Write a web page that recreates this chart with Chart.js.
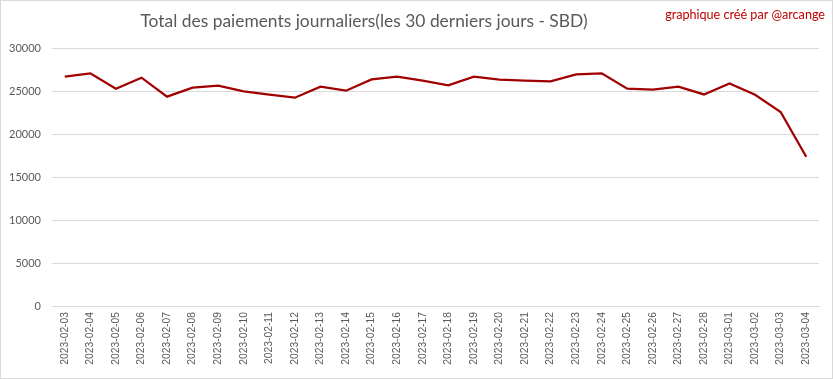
<!DOCTYPE html>
<html><head><meta charset="utf-8">
<script src="https://cdn.jsdelivr.net/npm/chart.js@4"></script>
<style>
html,body{margin:0;padding:0;background:#fff;}
#wrap{position:relative;width:831px;height:377px;border:1px solid #d9d9d9;}
canvas{display:block;}
</style></head><body>
<div id="wrap"><canvas id="c" width="831" height="377"></canvas></div>
<script>
const categories = ["2023-02-03","2023-02-04","2023-02-05","2023-02-06","2023-02-07","2023-02-08","2023-02-09","2023-02-10","2023-02-11","2023-02-12","2023-02-13","2023-02-14","2023-02-15","2023-02-16","2023-02-17","2023-02-18","2023-02-19","2023-02-20","2023-02-21","2023-02-22","2023-02-23","2023-02-24","2023-02-25","2023-02-26","2023-02-27","2023-02-28","2023-03-01","2023-03-02","2023-03-03","2023-03-04"];
const payments = [26660,27050,25270,26550,24340,25380,25620,24960,24570,24220,25500,25040,26350,26660,26200,25650,26660,26310,26200,26120,26930,27050,25270,25150,25500,24600,25880,24570,22560,17360];
const yTicks = [0,5000,10000,15000,20000,25000,30000];
const titleText = "Total des paiements journaliers(les 30 derniers jours - SBD)";
const creditText = "graphique créé par @arcange";

const textPlugin = {
  id:'texts',
  afterDraw(chart){
    const ctx = chart.ctx;
    ctx.save();
    ctx.fillStyle = '#595959';
    ctx.font = '17.4px Lato';
    ctx.textAlign = 'center';
    ctx.textBaseline = 'middle';
    ctx.fillText(titleText, 363, 20);
    ctx.fillStyle = '#c00000';
    ctx.font = '12.6px Lato';
    ctx.textAlign = 'right';
    ctx.fillText(creditText, 824, 14);
    ctx.restore();
  }
};

new Chart(document.getElementById('c'), {
  type:'line',
  data:{labels:categories, datasets:[{data:payments, borderColor:'#a00000', borderWidth:2.25, pointRadius:0, tension:0, fill:false}]},
  options:{
    responsive:false, animation:false,
    layout:{padding:{top:47,right:13,left:0,bottom:0}},
    plugins:{legend:{display:false}, title:{display:false}, tooltip:{enabled:false}},
    scales:{
      x:{offset:true,
        afterFit(s){ s.height = 72; },
        grid:{display:false, drawTicks:false},
        border:{display:true,color:'#d9d9d9',width:1},
        ticks:{color:'#595959', font:{family:'Liberation Sans', size:10.3}, maxRotation:90, minRotation:90, autoSkip:false, padding:6}
      },
      y:{min:0,max:30000,
        afterBuildTicks(s){ s.ticks = yTicks.map(v=>({value:v})); },
        afterFit(s){ s.width = 51; },
        grid:{color:'#d9d9d9', drawTicks:false},
        border:{display:false},
        ticks:{color:'#595959', font:{family:'Lato', size:11}, padding:11, callback:(v)=>String(v)}
      }
    }
  },
  plugins:[textPlugin]
});
</script>
</body></html>
